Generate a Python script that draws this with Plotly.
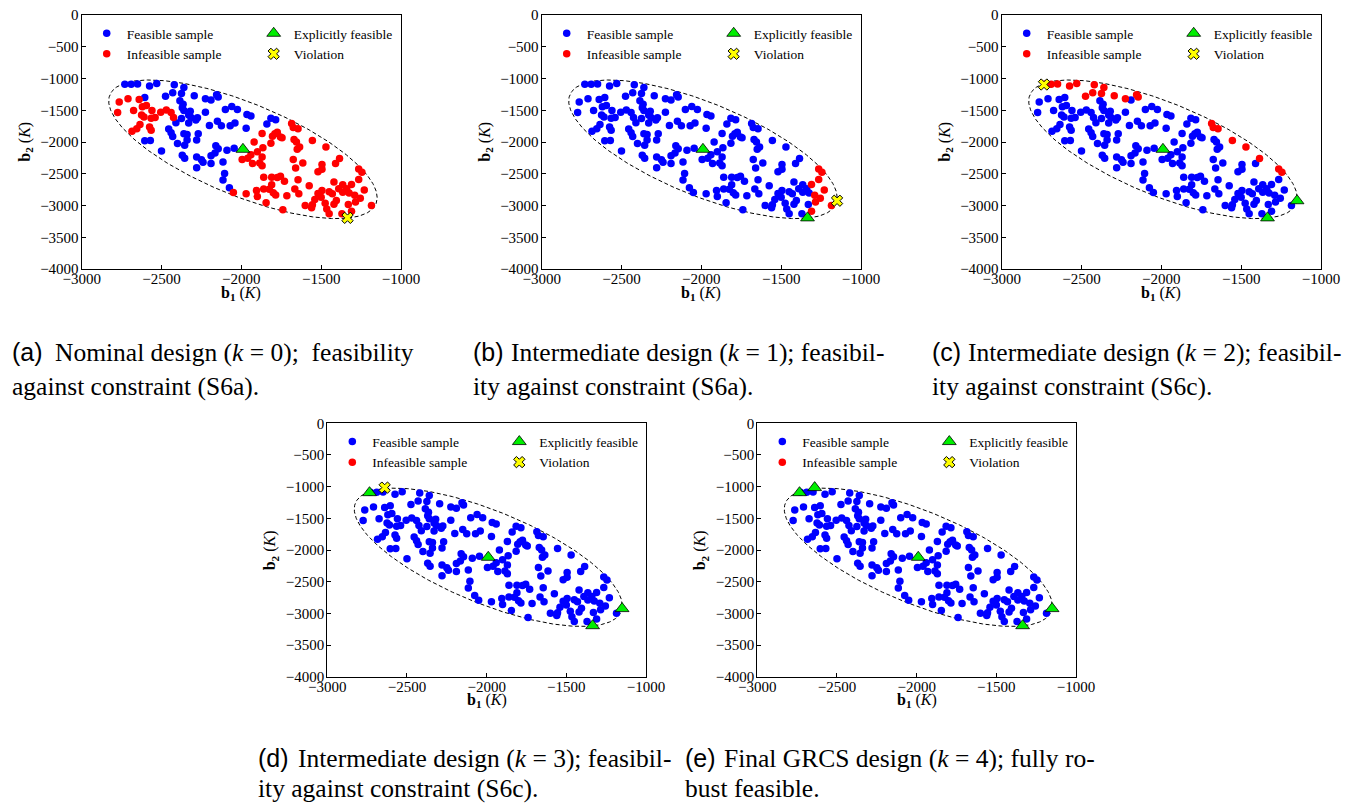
import numpy as np
import plotly.graph_objects as go

# ---------------- data ----------------
b1_samples = [
    -2730, -2690, -2650, -2575, -2530, -2420, -2360, -2430, -2375, -2475,
    -2605, -2295, -2225, -2190, -2155, -2145, -2385, -2365, -2370, -2360,
    -2320, -2330, -2315, -2285, -2275, -2330, -2375, -2410, -2225, -2100,
    -2060, -2025, -2150, -2200, -2125, -2070, -2040, -1965, -1940, -1970,
    -1815, -1785, -1840, -2455, -2440, -2430, -2400, -2360, -2340, -2340,
    -2270, -2280, -2355, -2605, -2570, -2500, -2370, -2355, -2280, -2250,
    -2240, -2280, -2190, -2190, -2160, -2145, -2165, -2115, -2090, -2045,
    -2105, -2115, -2075,
    -2765, -2710, -2775, -2675, -2640, -2620, -2595, -2625, -2610, -2635,
    -2655, -2685, -2575, -2565, -2560, -2565, -2540, -2505, -2470, -2440,
    -2425,
    -2050, -1995, -1960, -1970, -1940, -1930, -1920, -1900, -1885, -1870,
    -1870, -1865, -1870, -1815, -1805, -1790, -1775, -1755, -1745, -1810,
    -1775, -1755, -1810, -1800, -1785, -1825, -1860, -1860, -1905, -1900,
    -1845, -1730, -1715, -1740, -1685, -1675, -1645, -1670, -1655, -1635,
    -1650, -1675, -1660, -1615, -1645, -1665, -1640, -1600, -1555, -1470,
    -1520, -1495, -1495, -1575, -1540, -1555, -1560, -1520, -1495, -1500,
    -1475, -1465, -1450, -1420, -1430, -1450, -1420, -1405, -1410, -1385,
    -1390, -1365, -1365, -1340, -1325, -1330, -1370, -1310, -1310, -1290,
    -1285, -1265, -1245, -1265, -1255, -1230, -1185,
]
b2_samples = [
    -1090, -1090, -1085, -1120, -1080, -1100, -1140, -1225, -1235, -1280,
    -1300, -1270, -1320, -1340, -1255, -1290, -1350, -1405, -1460, -1505,
    -1515, -1575, -1615, -1655, -1620, -1700, -1630, -1695, -1530, -1490,
    -1440, -1490, -1675, -1740, -1745, -1745, -1700, -1565, -1590, -1785,
    -1625, -1650, -1715, -1795, -1855, -1915, -2025, -1870, -1880, -1970,
    -1870, -1970, -2050, -1980, -1975, -2140, -2210, -2255, -2235, -2280,
    -2320, -2405, -2215, -2340, -2060, -2105, -2175, -2315, -2130, -2100,
    -2495, -2600, -2720,
    -1370, -1320, -1535, -1505, -1330, -1445, -1425, -1575, -1605, -1725,
    -1790, -1830, -1765, -1815, -1505, -1625, -1615, -1530, -1495, -1535,
    -1615,
    -2795, -2275, -2255, -2815, -2200, -2340, -2000, -2155, -2330, -2235,
    -2375, -2090, -1865, -2020, -1910, -1870, -1845, -1920, -1935, -2555,
    -2560, -2540, -2675, -2800, -2835, -2745, -2555, -2740, -2765, -2860,
    -2955, -2620, -2845, -3065, -1710, -1770, -1790, -1960, -2000, -2080,
    -2115, -2275, -2410, -2330, -2595, -2740, -2815, -3000, -1975, -2080,
    -2470, -2355, -2430, -2690, -2905, -2990, -3035, -2810, -2765, -2870,
    -2965, -3055, -3130, -2630, -2815, -2785, -2980, -2920, -2340, -2260,
    -2735, -2675, -2790, -2735, -2805, -2985, -3130, -2670, -3090, -2840,
    -2945, -2425, -2475, -2590, -2885, -2755, -3000,
]

# indices of infeasible samples in each panel
infeasible_a = list(range(73, 181))
infeasible_b = [171, 172, 173, 174, 175, 176, 177, 178, 179, 180]
infeasible_c = [0, 1, 2, 3, 4, 5, 6, 7, 8, 9, 11, 12, 14, 15,
                128, 129, 130, 142, 143, 163, 175, 176]
infeasible_d = []
infeasible_e = []

explicit_b1 = [[-1990], [-1990, -1335], [-1990, -1335, -1150],
               [-1990, -1335, -1150, -2735], [-1990, -1335, -1150, -2735, -2640]]
explicit_b2 = [[-2115], [-2115, -3195], [-2115, -3195, -2925],
               [-2115, -3195, -2925, -1095], [-2115, -3195, -2925, -1095, -1015]]
violation_b1 = [[-1335], [-1150], [-2735], [-2640], []]
violation_b2 = [[-3195], [-2925], [-1095], [-1015], []]

# uncertainty-set ellipse
ell_center = [-1990, -2115]
ell_cov = [[707000, -640000], [-640000, 1192000]]

captions = [
    ("(a)", "Nominal design (<i>k</i> = 0);  feasibility", "against constraint (S6a)."),
    ("(b)", "Intermediate design (<i>k</i> = 1); feasibil-", "ity against constraint (S6a)."),
    ("(c)", "Intermediate design (<i>k</i> = 2); feasibil-", "ity against constraint (S6c)."),
    ("(d)", "Intermediate design (<i>k</i> = 3); feasibil-", "ity against constraint (S6c)."),
    ("(e)", "Final GRCS design (<i>k</i> = 4); fully ro-", "bust feasible."),
]
x_title = "<b>b</b><sub><b>1</b></sub> (<i>K</i>)"
y_title = "<b>b</b><sub><b>2</b></sub> (<i>K</i>)"

# ---------------- layout geometry (screen pixels) ----------------
OFF = 8                    # page body margin of the html page
W, H = 1350 - OFF, 804 - OFF
panels_px = [  # left, right, top, bottom
    (81.7, 401.0, 15.0, 269.0),
    (541.7, 861.0, 15.0, 269.0),
    (1001.7, 1321.0, 15.0, 269.0),
    (327.3, 646.0, 423.3, 676.7),
    (757.3, 1076.0, 423.3, 676.7),
]
caption_px = [  # label x, text x, line1 y, line2 y
    (10, 53, 352, 386),
    (471, 509, 352, 386),
    (930, 966, 352, 386),
    (256, 296, 758, 788),
    (683, 722, 758, 788),
]

SERIF = "Liberation Serif"
SANS = "Liberation Sans"
infeasible_sets = [infeasible_a, infeasible_b, infeasible_c, infeasible_d, infeasible_e]


def xp(px):
    return (px - OFF) / W


def yp(py):
    return 1 - (py - OFF) / H


b1_arr = np.array(b1_samples, dtype=float)
b2_arr = np.array(b2_samples, dtype=float)

# ellipse boundary from its parameters
t = np.linspace(0, 2 * np.pi, 400)
L = np.linalg.cholesky(np.array(ell_cov, dtype=float))
ell = np.array(ell_center)[:, None] + L @ np.vstack([np.cos(t), np.sin(t)])

fig = go.Figure()
annotations = []
layout_upd = {}


def ann(text, xpx, ypx, family, size, xanchor="left", angle=0):
    return dict(text=text, x=xp(xpx), y=yp(ypx), xref="paper", yref="paper",
                xanchor=xanchor, yanchor="middle", showarrow=False, textangle=angle,
                font=dict(family=family, size=size, color="black"))


for i in range(5):
    l, r, tp, bt = panels_px[i]
    sfx = "" if i == 0 else str(i + 1)
    xa, ya = "x" + sfx, "y" + sfx
    leg1 = "legend" if i == 0 else f"legend{2 * i + 1}"
    leg2 = f"legend{2 * i + 2}"

    mask = np.zeros(len(b1_arr), dtype=bool)
    mask[infeasible_sets[i]] = True

    fig.add_trace(go.Scatter(x=ell[0], y=ell[1], mode="lines", xaxis=xa, yaxis=ya,
                             line=dict(color="black", width=1, dash="4px,2.5px"),
                             showlegend=False, hoverinfo="skip"))
    fx = b1_arr[~mask].tolist() or [None]
    fy = b2_arr[~mask].tolist() or [None]
    ix = b1_arr[mask].tolist() or [None]
    iy = b2_arr[mask].tolist() or [None]
    fig.add_trace(go.Scatter(x=fx, y=fy, mode="markers", xaxis=xa, yaxis=ya,
                             name="Feasible sample", legend=leg1,
                             marker=dict(color="#0000ff", size=7.5)))
    fig.add_trace(go.Scatter(x=ix, y=iy, mode="markers", xaxis=xa, yaxis=ya,
                             name="Infeasible sample", legend=leg1,
                             marker=dict(color="#ff0000", size=7.5)))
    fig.add_trace(go.Scatter(x=explicit_b1[i], y=explicit_b2[i], mode="markers",
                             xaxis=xa, yaxis=ya, name="Explicitly feasible", legend=leg2,
                             marker=dict(color="#00ee00", size=12, symbol="triangle-up",
                                         line=dict(color="black", width=0.8))))
    fig.add_trace(go.Scatter(x=violation_b1[i] or [None], y=violation_b2[i] or [None],
                             mode="markers", xaxis=xa, yaxis=ya, name="Violation",
                             legend=leg2,
                             marker=dict(color="#ffff00", size=10, symbol="x",
                                         line=dict(color="black", width=1))))

    axis_common = dict(showline=True, linecolor="black", linewidth=1.2, mirror=True,
                       ticks="inside", ticklen=4, tickwidth=1, tickcolor="black",
                       showgrid=False, zeroline=False, automargin=False,
                       ticklabeloverflow="allow",
                       tickfont=dict(family=SERIF, size=15, color="black"))
    layout_upd["xaxis" + sfx] = dict(
        axis_common, domain=[xp(l), xp(r)], anchor=ya, range=[-3000, -1000],
        tick0=-3000, dtick=500, ticklabelstandoff=-4)
    layout_upd["yaxis" + sfx] = dict(
        axis_common, domain=[yp(bt), yp(tp)], anchor=xa, range=[-4000, 0],
        tick0=-4000, dtick=500, ticklabelstandoff=-1)

    # axis titles
    annotations.append(ann(x_title, (l + r) / 2, bt + 24, SERIF, 16, xanchor="center"))
    annotations.append(ann(y_title, l - 57, (tp + bt) / 2, SERIF, 16, xanchor="center",
                           angle=-90))

    leg_common = dict(xanchor="left", yanchor="top", bgcolor="rgba(0,0,0,0)",
                      borderwidth=0, tracegroupgap=0,
                      font=dict(family=SERIF, size=13.5, color="black"))
    layout_upd[leg1] = dict(leg_common, x=xp(l + 5), y=yp(tp + 3))
    layout_upd[leg2] = dict(leg_common, x=xp(l + 172), y=yp(tp + 3))

    lab, line1, line2 = captions[i]
    lx, tx, y1, y2 = caption_px[i]
    annotations.append(ann(lab, lx, y1, SANS, 25))
    annotations.append(ann(line1, tx, y1, SERIF, 25.5))
    annotations.append(ann(line2, lx, y2, SERIF, 25.5))

fig.update_layout(width=W, height=H, margin=dict(l=0, r=0, t=0, b=0, autoexpand=False),
                  paper_bgcolor="white", plot_bgcolor="white",
                  annotations=annotations, **layout_upd)

fig.write_html("out.html")
